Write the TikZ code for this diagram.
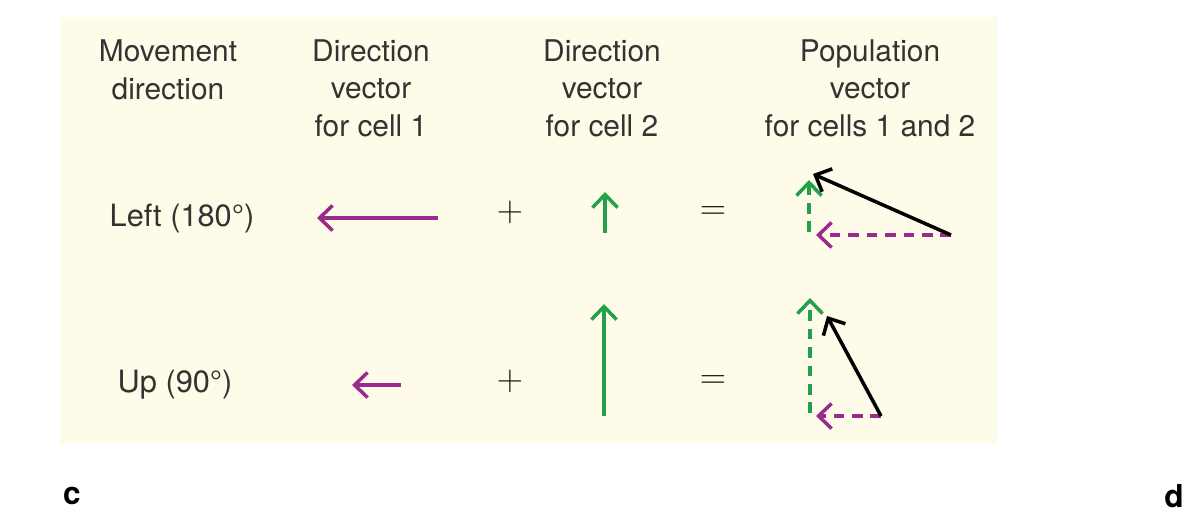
\documentclass[tikz,border=0pt]{standalone}
\usepackage{fontspec}
\setmainfont{TeX Gyre Heros}
\usetikzlibrary{arrows.meta}
\definecolor{panelbg}{HTML}{FEFBE8}
\definecolor{cellone}{HTML}{9A2A8C}
\definecolor{celltwo}{HTML}{21A24A}

\begin{document}
\begin{tikzpicture}[x=0.02cm,y=-0.02cm,
    head/.style={align=center,font=\fontsize{17}{21.3}\selectfont,text=black!80},
    lbl/.style={font=\fontsize{17.5}{20}\selectfont,text=black!80},
    op/.style={font=\fontsize{20}{22}\selectfont,text=black!90},
    vec/.style={line width=2pt,-{Straight Barb[length=2.6mm,width=5mm,line width=2pt]}},
    part/.style={vec,dash pattern=on 6pt off 4.5pt}]
  \useasboundingbox (0,0) rectangle (1185,515);
  \fill[panelbg] (60,17) rectangle (997,443);

  % column heads
  \node[head] (h1) at (168,70)  {Movement\\direction};
  \node[head] (h2) at (371,88)  {Direction\\vector\\for cell 1};
  \node[head] (h3) at (602,88)  {Direction\\vector\\for cell 2};
  \node[head] (h4) at (870,88)  {Population\\vector\\for cells 1 and 2};

  % row 1: left
  \node[lbl] (l1) at (182,218) {Left (180°)};
  \coordinate (a1s) at (438,218); \coordinate (a1e) at (317,218);
  \draw[vec,cellone] (a1s) -- (a1e);
  \node[op] (p1) at (510,212) {$+$};
  \coordinate (b1s) at (605,233); \coordinate (b1e) at (605,192);
  \draw[vec,celltwo] (b1s) -- (b1e);
  \node[op] (e1) at (713,213) {$=$};
  \coordinate (c1o) at (951,235);
  \coordinate (c1m) at (816,235);
  \coordinate (c1g) at (809,232);
  \coordinate (c1t) at (809,180);
  \coordinate (c1r) at (813,174);
  \draw[part,cellone] (c1o) -- (c1m);
  \draw[part,celltwo] (c1g) -- (c1t);
  \draw[vec,black] (c1o) -- (c1r);

  % row 2: up
  \node[lbl] (l2) at (175,385) {Up (90°)};
  \coordinate (a2s) at (401,385); \coordinate (a2e) at (352,385);
  \draw[vec,cellone] (a2s) -- (a2e);
  \node[op] (p2) at (510,381) {$+$};
  \coordinate (b2s) at (604,416); \coordinate (b2e) at (604,304);
  \draw[vec,celltwo] (b2s) -- (b2e);
  \node[op] (e2) at (713,382) {$=$};
  \coordinate (c2o) at (881,416);
  \coordinate (c2m) at (816,416);
  \coordinate (c2g) at (810,413);
  \coordinate (c2t) at (810,298);
  \coordinate (c2r) at (827,316);
  \draw[part,cellone] (c2o) -- (c2m);
  \draw[part,celltwo] (c2g) -- (c2t);
  \draw[vec,black] (c2o) -- (c2r);

  % panel letters
  \node[font=\fontsize{18}{20}\selectfont\bfseries] (pc) at (72,496) {c};
  \node[font=\fontsize{18}{20}\selectfont\bfseries] (pd) at (1174,496) {d};
\end{tikzpicture}
\end{document}
